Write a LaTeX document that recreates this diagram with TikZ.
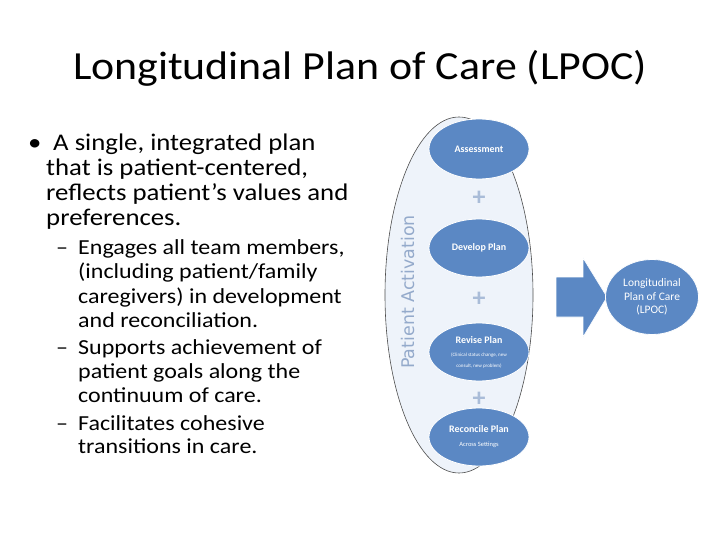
\documentclass[tikz,border=0pt]{standalone}
\usepackage{fontspec}
\setmainfont{Carlito}
\newfontfamily\wideF{Carlito}[FakeStretch=1.12]
\newfontfamily\titleF{Carlito}[FakeStretch=1.1]
\newfontfamily\actF{DejaVu Sans}
\usetikzlibrary{shapes.geometric}
\definecolor{nodeblue}{HTML}{5B88C4}
\definecolor{paleblue}{HTML}{EEF3FA}
\definecolor{actblue}{HTML}{94AACB}
\definecolor{plusblue}{HTML}{A9BCD8}
\begin{document}
\begin{tikzpicture}[x=1bp,y=-1bp,
  blob/.style={ellipse,fill=nodeblue,draw=white,line width=0.8bp,minimum width=100bp,minimum height=60bp,text=white,inner sep=0pt,align=center,font=\fontsize{10}{11}\selectfont\bfseries},
  ln/.style={anchor=base west,inner sep=0pt,font=\wideF\fontsize{24}{25}\selectfont},
  sl/.style={anchor=base west,inner sep=0pt,font=\wideF\fontsize{21.5}{23}\selectfont},
  plus/.style={font=\fontsize{26}{26}\selectfont\bfseries,text=plusblue,inner sep=0pt}]
\useasboundingbox (0,0) rectangle (720,540);
\node[font=\titleF\fontsize{40}{44}\selectfont] (title) at (360,68) {Longitudinal Plan of Care (LPOC)};
% bullet text
\node[ln] (b0) at (28,151) {•};
\node[ln] (l1) at (53,151) {A single, integrated plan};
\node[ln] (l2) at (46,176) {that is patient-centered,};
\node[ln] (l3) at (46,201) {reflects patient’s values and};
\node[ln] (l4) at (46,226) {preferences.};
\node[sl] (d1) at (56,255) {–};
\node[sl] (s1) at (78,255) {Engages all team members,};
\node[sl] (s2) at (78,279) {(including patient/family};
\node[sl] (s3) at (78,303) {caregivers) in development};
\node[sl] (s4) at (78,327) {and reconciliation.};
\node[sl] (d2) at (56,354) {–};
\node[sl] (s5) at (78,354) {Supports achievement of};
\node[sl] (s6) at (78,378) {patient goals along the};
\node[sl] (s7) at (78,402) {continuum of care.};
\node[sl] (d3) at (56,430) {–};
\node[sl] (s8) at (78,430) {Facilitates cohesive};
\node[sl] (s9) at (78,453) {transitions in care.};
% diagram
\node[ellipse,draw=black!70,fill=paleblue,line width=0.6bp,minimum width=148bp,minimum height=356bp,inner sep=0pt] (big) at (459,295) {};
\node[rotate=90,text=actblue,font=\actF\fontsize{17.5}{18}\selectfont] (pa) at (408,292) {Patient Activation};
\node[blob] (a) at (479,149) {Assessment};
\node[blob,minimum height=58bp] (d) at (479,248) {Develop Plan};
\node[blob,minimum height=58bp] (r) at (479,352) {Revise Plan\\[2pt]{\fontsize{5}{6}\selectfont\mdseries (Clinical status change, new}\\{\fontsize{5}{6}\selectfont\mdseries consult, new problem)}};
\node[blob,minimum height=58bp] (c) at (479,437) {Reconcile Plan\\[3pt]{\fontsize{6.5}{7}\selectfont\mdseries Across Settings}};
\node[plus] (p1) at (479,198) {+};
\node[plus] (p2) at (479,299) {+};
\node[plus] (p3) at (479,399) {+};
\coordinate (t) at (607,297);
\filldraw[fill=nodeblue,draw=white,line width=0.6bp] (556,277) -- (583,277) -- (583,258) -- (t) -- (583,337) -- (583,317) -- (556,317) -- cycle;
\node[blob,minimum width=93bp,minimum height=75bp,font=\fontsize{11.5}{13.5}\selectfont] (lpoc) at (652,297) {Longitudinal\\Plan of Care\\(LPOC)};
\end{tikzpicture}
\end{document}
